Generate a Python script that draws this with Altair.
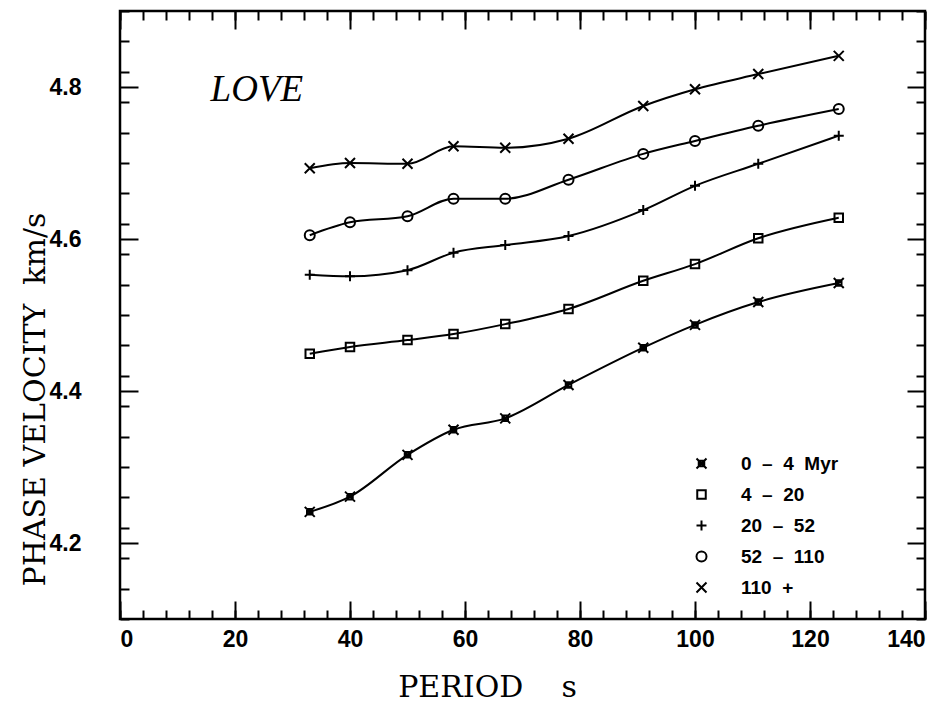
import altair as alt
import pandas as pd

# ---- data ----
periods = [33, 40, 50, 58, 67, 78, 91, 100, 111, 125]
NB = "\u00a0"
ages = [f"0{NB}{NB}\u2013{NB}{NB}4{NB}{NB}Myr", f"4{NB}{NB}\u2013{NB}{NB}20",
        f"20{NB}{NB}\u2013{NB}{NB}52", f"52{NB}{NB}\u2013{NB}{NB}110", f"110{NB}{NB}+"]
v_0_4 = [4.241, 4.261, 4.316, 4.349, 4.364, 4.408, 4.457, 4.487, 4.517, 4.542]
v_4_20 = [4.449, 4.458, 4.467, 4.475, 4.488, 4.508, 4.545, 4.567, 4.601, 4.628]
v_20_52 = [4.553, 4.551, 4.559, 4.582, 4.592, 4.604, 4.638, 4.670, 4.699, 4.736]
v_52_110 = [4.605, 4.622, 4.630, 4.653, 4.653, 4.678, 4.712, 4.729, 4.749, 4.771]
v_110 = [4.693, 4.700, 4.699, 4.722, 4.720, 4.732, 4.775, 4.797, 4.817, 4.841]

x_major = [0, 20, 40, 60, 80, 100, 120, 140]
x_minor = list(range(0, 141, 4))
y_major = [4.2, 4.4, 4.6, 4.8]
y_minor = [round(4.1 + 0.04 * i, 2) for i in range(0, 21)]

label_text = ["LOVE"]
label_x = [23.8]
label_y = [4.796]

series = [v_0_4, v_4_20, v_20_52, v_52_110, v_110]
rows = []
for name, vals in zip(ages, series):
    for p, v in zip(periods, vals):
        rows.append({"period": p, "vel": v, "age": name})
df = pd.DataFrame(rows)
lab = pd.DataFrame({"x": label_x, "y": label_y, "t": label_text})

W, H = 805, 608
xs = alt.Scale(domain=[0, 140], nice=False, zero=False)
ys = alt.Scale(domain=[4.1, 4.9], nice=False, zero=False)

shapes = [
    "M-1,-1L1,1M-1,1L1,-1M-0.55,-0.55H0.55V0.55H-0.55Z",
    "M-0.85,-0.85H0.85V0.85H-0.85Z",
    "M-1,0H1M0,-1V1",
    "circle",
    "M-1,-1L1,1M-1,1L1,-1",
]

base = alt.Chart(df)

main_x = alt.Axis(orient="bottom", values=x_major, ticks=False, domain=False, grid=False,
                  labelFont="Liberation Sans", labelFontWeight="bold", labelFontSize=23,
                  labelColor="black", labelPadding=9, format="d",
                  title=f"PERIOD{NB}{NB}{NB}{NB}s", titleFont="DejaVu Serif",
                  titleFontWeight="normal", titleFontSize=30, titleColor="black",
                  titleX=367, titleY=68, titleBaseline="middle", titleAlign="center")
main_y = alt.Axis(orient="left", values=y_major, ticks=False, domain=False, grid=False,
                  labelFont="Liberation Sans", labelFontWeight="bold", labelFontSize=23,
                  labelColor="black", labelPadding=39, format=".1f",
                  title=f"PHASE{NB}VELOCITY{NB}{NB}km/s", titleFont="DejaVu Serif",
                  titleFontWeight="normal", titleFontSize=30, titleColor="black",
                  titleAngle=270, titleX=-85, titleY=388, titleBaseline="middle",
                  titleAlign="center")

lines = base.mark_line(interpolate="monotone", color="black", strokeWidth=2).encode(
    x=alt.X("period:Q", scale=xs, axis=main_x),
    y=alt.Y("vel:Q", scale=ys, axis=main_y),
    detail="age:N",
)

points = base.mark_point(filled=False, color="black", strokeWidth=2, size=100, opacity=1).encode(
    x=alt.X("period:Q", scale=xs, axis=None),
    y=alt.Y("vel:Q", scale=ys, axis=None),
    shape=alt.Shape("age:N", scale=alt.Scale(domain=ages, range=shapes), sort=ages,
                    legend=alt.Legend(title=None, orient="none", legendX=572, legendY=443,
                                      labelFont="Liberation Sans", labelFontWeight="bold",
                                      labelFontSize=19, labelColor="black",
                                      symbolSize=100, symbolStrokeWidth=2,
                                      symbolStrokeColor="black", symbolFillColor="transparent",
                                      rowPadding=11, labelOffset=30, padding=0)),
)

love = alt.Chart(lab).mark_text(font="Liberation Serif", fontStyle="italic", fontSize=37,
                                align="center", baseline="middle", color="black").encode(
    x=alt.X("x:Q", scale=xs, axis=None),
    y=alt.Y("y:Q", scale=ys, axis=None),
    text="t:N",
)


def tick_layer(xorient, yorient, xvals, yvals, size):
    return base.mark_point(opacity=0).encode(
        x=alt.X("period:Q", scale=xs, axis=alt.Axis(
            orient=xorient, offset=-H, values=xvals, labels=False, domain=False, grid=False,
            ticks=True, tickSize=size, tickWidth=2, tickColor="black", title=None)),
        y=alt.Y("vel:Q", scale=ys, axis=alt.Axis(
            orient=yorient, offset=-W, values=yvals, labels=False, domain=False, grid=False,
            ticks=True, tickSize=size, tickWidth=2, tickColor="black", title=None)),
    )


t1 = tick_layer("top", "right", x_major, y_major, 18)
t2 = tick_layer("top", "right", x_minor, y_minor, 9)
t3 = tick_layer("bottom", "left", x_major, y_major, 18)
t4 = tick_layer("bottom", "left", x_minor, y_minor, 9)

chart = alt.layer(lines, points, love, t1, t2, t3, t4).resolve_axis(
    x="independent", y="independent"
).properties(
    width=W, height=H,
    autosize=alt.AutoSizeParams(type="none"),
    padding={"left": 112, "top": 3, "right": 15, "bottom": 88},
    background="white",
).configure_view(stroke="black", strokeWidth=2.5)

chart.save("out.html", embed_options={"renderer": "svg", "actions": False})
